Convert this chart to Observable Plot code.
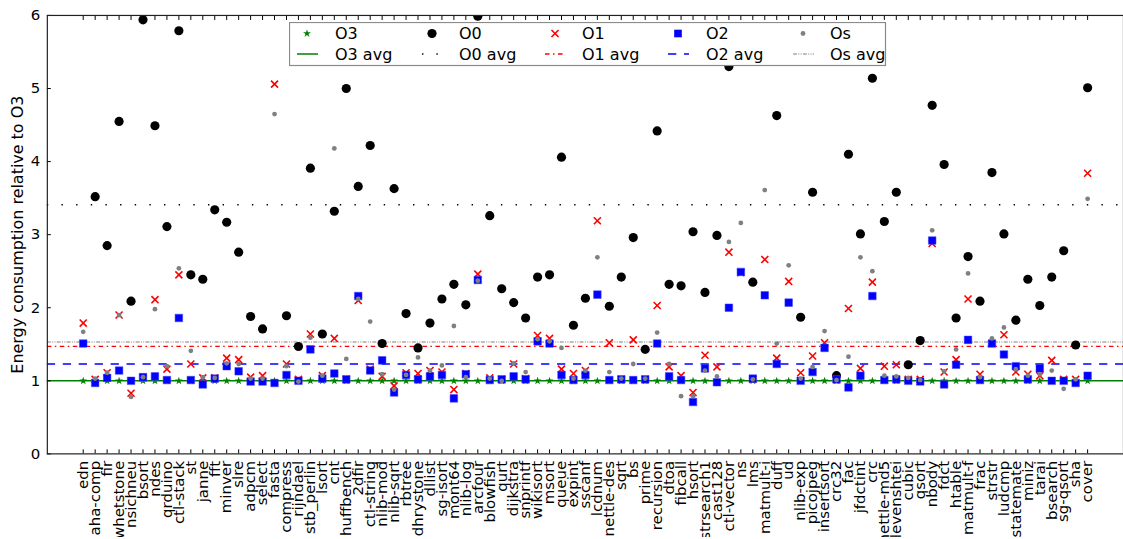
<!DOCTYPE html>
<html>
<head>
<meta charset="utf-8">
<script src="https://cdn.jsdelivr.net/npm/d3@7"></script>
<script src="https://cdn.jsdelivr.net/npm/@observablehq/plot@0.6"></script>
<style>
  html, body { margin: 0; padding: 0; background: #fff; overflow: hidden; width: 1123px; height: 539px; }
  #wrap { position: relative; width: 1123px; height: 539px; overflow: hidden; }
  #wrap > svg.chart { position: absolute; left: 0; top: 0; }
  #wrap > svg#legend { position: absolute; left: 289px; top: 22px; }
</style>
</head>
<body>
<div id="wrap"></div>
<script>
// Benchmarks, in plotting order (labels shortened as on the axis)
const benchmarks = ["edn","aha-comp","fir","whetstone","nsichneu","bsort","ndes","qrduino","ctl-stack","st",
  "janne","fft","minver","slre","adpcm","select","fasta","compress","rijndael","stb_perlin",
  "lsort","cnt","huffbench","2dfir","ctl-string","nlib-mod","nlib-sqrt","rbtree","dhrystone","dllist",
  "sg-isort","mont64","nlib-log","arcfour","blowfish","qurt","dijkstra","snprintf","wikisort","msort",
  "queue","expint","sscanf","lcdnum","nettle-des","sqrt","bs","prime","recursion","dtoa",
  "fibcall","hsort","strsearch1","cast128","ctl-vector","ns","lms","matmult-i","duff","ud",
  "nlib-exp","picojpeg","insertsort","crc32","fac","jfdctint","crc","nettle-md5","levenshtei","cubic",
  "qsort","nbody","fdct","htable","matmult-f","frac","strstr","ludcmp","statemate","miniz",
  "tarai","bsearch","sg-qsort","sha","cover"];

// Energy consumption of each optimisation level, relative to O3
const o3 = [1,1,1,1,1,1,1,1,1,1, 1,1,1,1,1,1,1,1,1,1, 1,1,1,1,1,1,1,1,1,1, 1,1,1,1,1,1,1,1,1,1,
  1,1,1,1,1,1,1,1,1,1, 1,1,1,1,1,1,1,1,1,1, 1,1,1,1,1,1,1,1,1,1, 1,1,1,1,1,1,1,1,1,1, 1,1,1,1,1];

const o0 = [8.4,3.52,2.85,4.55,2.09,5.94,4.49,3.11,5.79,2.45,
  2.39,3.34,3.17,2.76,1.88,1.71,9.1,1.89,1.47,3.91,
  1.64,3.32,5.00,3.66,4.22,1.51,3.63,1.92,1.45,1.79,
  2.12,2.32,2.04,5.99,3.26,2.26,2.07,1.86,2.42,2.45,
  4.06,1.76,2.13,10.2,2.02,2.42,2.96,1.43,4.42,2.32,
  2.30,3.04,2.21,2.99,5.30,8.0,2.35,8.7,4.63,8.3,
  1.87,3.58,7.5,1.07,4.10,3.01,5.14,3.18,3.58,1.22,
  1.55,4.77,3.96,1.86,2.70,2.09,3.85,3.01,1.83,2.39,
  2.03,2.42,2.78,1.49,5.01];

const o1 = [1.79,1.02,1.11,1.90,0.83,1.04,2.11,1.16,2.45,1.23,
  1.04,1.04,1.31,1.29,1.05,1.07,5.06,1.23,1.02,1.64,
  1.07,1.58,1.02,2.10,1.16,1.06,0.93,1.11,1.10,1.14,
  1.12,0.88,1.10,2.46,1.04,1.02,1.23,1.03,1.62,1.58,
  1.16,1.10,1.14,3.19,1.52,1.02,1.56,1.02,2.03,1.19,
  1.07,0.84,1.35,1.19,2.76,2.48,1.02,2.66,1.31,2.36,
  1.11,1.34,1.52,1.02,1.99,1.17,2.35,1.20,1.22,1.02,
  1.02,2.88,1.12,1.29,2.12,1.09,1.51,1.63,1.12,1.09,
  1.07,1.28,1.02,1.02,3.84];

const o2 = [1.51,0.97,1.04,1.14,1.00,1.05,1.06,1.01,1.86,1.01,
  0.95,1.03,1.20,1.13,0.99,0.99,0.97,1.08,1.00,1.43,
  1.03,1.10,1.02,2.16,1.14,1.28,0.84,1.08,1.02,1.06,
  1.08,0.76,1.09,2.38,1.01,1.02,1.06,1.02,1.54,1.51,
  1.08,1.01,1.08,2.18,1.01,1.02,1.01,1.02,1.51,1.06,
  1.01,0.71,1.17,0.98,2.00,2.49,1.03,2.17,1.23,2.07,
  1.00,1.12,1.45,1.02,0.91,1.07,2.16,1.01,1.02,1.00,
  0.99,2.92,0.95,1.22,1.56,1.01,1.51,1.36,1.20,1.02,
  1.17,1.00,1.00,0.97,1.07];

const os = [1.67,1.03,1.11,1.90,0.78,1.05,1.98,1.20,2.54,1.41,
  1.05,1.04,1.24,1.23,1.03,1.03,4.65,1.20,0.99,1.59,
  1.07,4.18,1.30,2.12,1.81,1.09,0.88,1.08,1.32,1.14,
  1.21,1.75,1.05,2.37,1.03,1.00,1.24,1.12,1.57,1.54,
  1.45,1.03,1.14,2.69,1.12,1.03,1.23,1.03,1.66,1.23,
  0.79,0.79,1.14,1.06,2.90,3.16,1.02,3.61,1.51,2.58,
  1.03,1.19,1.68,1.01,1.33,2.69,2.50,1.07,1.06,1.04,
  1.01,3.06,1.13,1.43,2.47,1.05,1.58,1.73,1.16,1.07,
  1.09,1.14,0.89,1.02,3.49];

// Mean of each level over all benchmarks
const seriesNames = ["O3", "O0", "O1", "O2", "Os"];
const averages = [1.00, 3.41, 1.47, 1.23, 1.53];

const yTicks = [0, 1, 2, 3, 4, 5, 6];
const yLabel = "Energy consumption relative to O3";

// Per-level styling: marker and average line
const styles = {
  O3: {color: "#008000", symbol: "star",   r: 2.5, fill: true,  dash: null,                  width: 1.5},
  O0: {color: "#000000", symbol: "circle", r: 4.6, fill: true,  dash: "1.4,13.3",            width: 1.4},
  O1: {color: "#ff0000", symbol: "times",  r: 3.3, fill: false, dash: "4.5,3.5,1.5,3.5",     width: 1.3},
  O2: {color: "#0000ff", symbol: "square", r: 4.3, fill: true,  dash: "8.3,7.7",             width: 1.4},
  Os: {color: "#808080", symbol: "circle", r: 2.4, fill: true,  dash: "4,1.3,1,1.3,1,1.3",   width: 1.1}
};

const valuesByLevel = {O3: o3, O0: o0, O1: o1, O2: o2, Os: os};
const table = seriesNames.map(level =>
  benchmarks.map((bench, i) => ({bench, level, value: valuesByLevel[level][i]})));
const avgTable = seriesNames.map((level, i) => ({level, value: averages[i]}));

const font = "DejaVu Sans, sans-serif";

const avgMarks = avgTable.map(d => {
  const s = styles[d.level];
  return Plot.ruleY([d], {y: "value", stroke: s.color, strokeWidth: s.width,
    strokeDasharray: s.dash ?? undefined});
});

const dotMarks = table.map(rows => {
  const s = styles[rows[0].level];
  const opts = {x: "bench", y: "value", symbol: s.symbol, r: s.r, clip: true};
  if (s.symbol === "square") { opts.fill = s.color; opts.stroke = "#4040ff"; opts.strokeWidth = 0.5; }
  else if (s.fill) { opts.fill = s.color; opts.stroke = "none"; }
  else { opts.fill = "none"; opts.stroke = s.color; opts.strokeWidth = 1.6; }
  return Plot.dot(rows, opts);
});

const chart = Plot.plot({
  width: 1127,
  height: 539,
  marginLeft: 47,
  marginRight: 0,
  marginTop: 15,
  marginBottom: 84,
  className: "chart",
  style: {fontFamily: font, fontSize: "15px", background: "white", overflow: "hidden"},
  x: {type: "point", domain: benchmarks, padding: 2, align: 0.5},
  y: {domain: [0, 6]},
  marks: [
    ...avgMarks,
    ...dotMarks,
    Plot.axisY({ticks: yTicks, tickFormat: "d", tickSize: 0, tickPadding: 7, label: null, fontSize: 15}),
    Plot.axisY({ticks: yTicks, tickSize: -4, text: null, label: null, stroke: "#000"}),
    Plot.axisX({anchor: "bottom", tickSize: 0, tickPadding: 7, tickRotate: -90, label: null, fontSize: 15}),
    Plot.axisX({anchor: "bottom", tickSize: -4, text: null, label: null, stroke: "#000"}),
    Plot.axisX({anchor: "top", tickSize: -4, text: null, label: null, stroke: "#000"}),
    Plot.frame({stroke: "#222", strokeWidth: 1.2}),
    Plot.text([yLabel], {frameAnchor: "left", dx: -30, rotate: -90, textAnchor: "middle",
      lineAnchor: "middle", fontSize: 16, fill: "#000"})
  ]
});
chart.classList.add("chart");
document.getElementById("wrap").appendChild(chart);

// Legend box: markers on the first row, average lines on the second
const legendW = 596, legendH = 43;
const colMarkX = [18, 143, 266, 389, 514];
const colTextX = [46, 170, 293, 417, 541];
const row1 = 11.5, row2 = 32;
const legend = d3.select("#wrap").append("svg")
  .attr("id", "legend")
  .attr("width", legendW + 2).attr("height", legendH + 2)
  .style("font-family", font).style("font-size", "16px");
legend.append("rect").attr("x", 0.5).attr("y", 0.5).attr("width", legendW).attr("height", legendH)
  .attr("fill", "white").attr("stroke", "#8a8a8a").attr("stroke-width", 1.2);

const symbolFor = {star: d3.symbolStar, circle: d3.symbolCircle, times: d3.symbolTimes, square: d3.symbolSquare};
seriesNames.forEach((level, i) => {
  const s = styles[level];
  const sym = d3.symbol(symbolFor[s.symbol], Math.PI * s.r * s.r)();
  const p = legend.append("path").attr("d", sym)
    .attr("transform", `translate(${colMarkX[i]},${row1})`);
  if (s.fill) p.attr("fill", s.color); else p.attr("fill", "none").attr("stroke", s.color).attr("stroke-width", 1.6);
  legend.append("text").attr("x", colTextX[i]).attr("y", row1).attr("dy", "0.36em").text(level);

  const l = legend.append("line").attr("x1", colMarkX[i] - 10).attr("x2", colMarkX[i] + 11)
    .attr("y1", row2).attr("y2", row2).attr("stroke", s.color).attr("stroke-width", s.width);
  if (s.dash) l.attr("stroke-dasharray", level === "O0" ? "1.4,13" : s.dash);
  legend.append("text").attr("x", colTextX[i]).attr("y", row2).attr("dy", "0.36em").text(level + " avg");
});
</script>
</body>
</html>
